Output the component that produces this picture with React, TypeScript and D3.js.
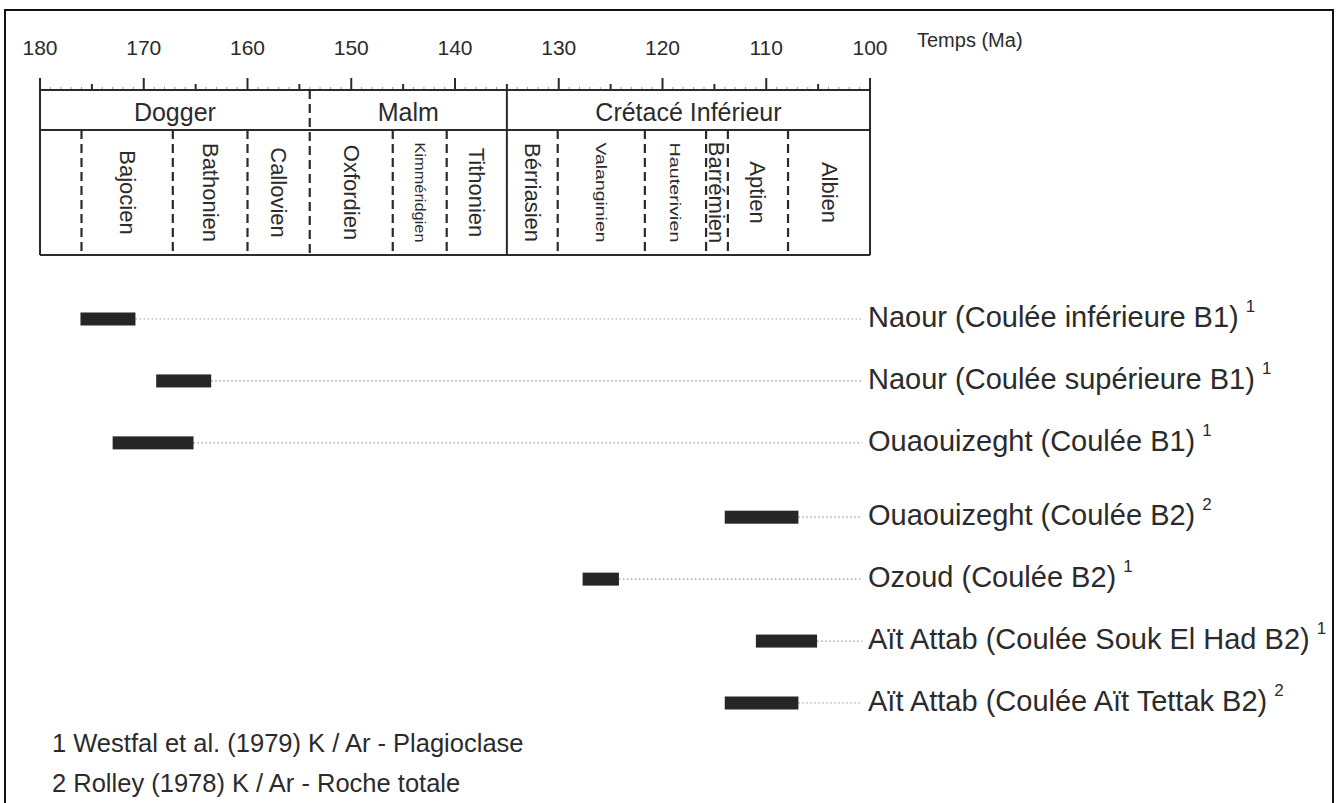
import React from 'react';
import * as d3 from 'd3';

// axis (Ma)
const tickLabels = ['180', '170', '160', '150', '140', '130', '120', '110', '100'];

// periods
const periodNames = ['Dogger', 'Malm', 'Crétacé Inférieur'];
const periodStart = [180, 154, 135];
const periodEnd = [154, 135, 100];

// stages
const stageNames = ['', 'Bajocien', 'Bathonien', 'Callovien', 'Oxfordien', 'Kimméridgien', 'Tithonien',
  'Bérriasien', 'Valanginien', 'Hauterivien', 'Barrémien', 'Aptien', 'Albien'];
const stageStart = [180, 176, 167.2, 160, 154, 146, 140.8, 135, 130.1, 121.7, 115.8, 113.7, 107.9];
const stageEnd = [176, 167.2, 160, 154, 146, 140.8, 135, 130.1, 121.7, 115.8, 113.7, 107.9, 100];

// dated flows
const sampleNames = [
  'Naour (Coulée inférieure B1)',
  'Naour (Coulée supérieure B1)',
  'Ouaouizeght (Coulée B1)',
  'Ouaouizeght (Coulée B2)',
  'Ozoud (Coulée B2)',
  'Aït Attab (Coulée Souk El Had B2)',
  'Aït Attab (Coulée Aït Tettak B2)',
];
const sampleRefs = ['1', '1', '1', '2', '1', '1', '2'];
const sampleGroups = ['B1', 'B1', 'B1', 'B2', 'B2', 'B2', 'B2'];
const ageOld = [176.1, 168.8, 173.0, 114.0, 127.7, 111.0, 114.0];
const ageYoung = [170.8, 163.5, 165.2, 106.9, 124.2, 105.1, 106.9];

const footnotes = [
  '1 Westfal et al. (1979) K / Ar - Plagioclase',
  '2 Rolley (1978) K / Ar - Roche totale',
];

const narrowStages = new Set(['Kimméridgien', 'Valanginien', 'Hauterivien']);

const W = 1339;
const H = 803;
const FONT = '"Liberation Sans", Arial, Helvetica, sans-serif';
const INK = '#2b2b2b';

export default function App() {
  const x = d3.scaleLinear().domain([180, 100]).range([40, 870]);
  const axisY = 90;
  const midY = 130;
  const boxBottom = 255;
  const stageMid = (midY + boxBottom) / 2;

  // row index with a small gap between B1 and B2 groups
  const rowPos = sampleGroups.map((g, i) => i + (g === 'B2' ? 0.2 : 0));
  const y = d3.scaleLinear().domain([0, d3.max(rowPos) as number]).range([319, 703]);
  const barH = 13;
  const labelX = 868;

  const minor = d3.range(100, 181, 1);
  const stageBounds = stageStart.slice(1).filter(v => v !== 154 && v !== 135);

  return (
    <svg width={W} height={H} style={{ position: 'absolute', left: 0, top: 0, display: 'block' }}
      fontFamily={FONT}>
      <rect width={W} height={H} fill="#fff" />
      <rect x={5} y={10} width={1328} height={820} fill="none" stroke="#111" strokeWidth={2} />

      {/* time axis */}
      {tickLabels.map(t => (
        <text key={t} x={x(+t)} y={55} textAnchor="middle" fontSize={21} fill={INK}>{t}</text>
      ))}
      <text x={917} y={47} fontSize={20} fill={INK}>Temps (Ma)</text>
      {minor.map(v => {
        const len = v % 10 === 0 ? 12 : v % 5 === 0 ? 6 : 3;
        return (
          <line key={v} x1={x(v)} x2={x(v)} y1={axisY - len} y2={axisY}
            stroke={v % 5 === 0 ? INK : '#999'} strokeWidth={v % 5 === 0 ? 2 : 1} />
        );
      })}

      {/* stratigraphic box */}
      <g stroke={INK} strokeWidth={2} fill="none">
        <line x1={x(180)} x2={x(100)} y1={axisY} y2={axisY} />
        <line x1={x(180)} x2={x(100)} y1={midY} y2={midY} />
        <line x1={x(180)} x2={x(100)} y1={boxBottom} y2={boxBottom} />
        <line x1={x(180)} x2={x(180)} y1={axisY - 12} y2={boxBottom} />
        <line x1={x(100)} x2={x(100)} y1={axisY - 12} y2={boxBottom} />
        <line x1={x(154)} x2={x(154)} y1={axisY} y2={boxBottom} strokeDasharray="9,5" strokeWidth={2.2} />
        <line x1={x(135)} x2={x(135)} y1={axisY} y2={boxBottom} />
        {stageBounds.map(v => (
          <line key={v} x1={x(v)} x2={x(v)} y1={midY} y2={boxBottom} strokeDasharray="9,5" strokeWidth={2.2} />
        ))}
      </g>

      {periodNames.map((p, i) => (
        <text key={p} x={(x(periodStart[i]) + x(periodEnd[i])) / 2} y={121} textAnchor="middle"
          fontSize={25} fill={INK}>{p}</text>
      ))}

      {stageNames.map((s, i) => {
        if (!s) return null;
        const cx = (x(stageStart[i]) + x(stageEnd[i])) / 2;
        const narrow = narrowStages.has(s);
        return (
          <text key={s} transform={`translate(${cx},${stageMid}) rotate(90)`} textAnchor="middle"
            dominantBaseline="central" fontSize={narrow ? 14 : 22} fill={INK}
            textLength={narrow ? 100 : undefined} lengthAdjust={narrow ? 'spacingAndGlyphs' : undefined}>
            {s}
          </text>
        );
      })}

      {/* age bars */}
      {sampleNames.map((n, i) => {
        const cy = y(rowPos[i]);
        return (
          <g key={n}>
            <line x1={x(ageYoung[i])} x2={labelX - 6} y1={cy} y2={cy} stroke="#9a9a9a"
              strokeWidth={1.2} strokeDasharray="1.5,2.5" />
            <rect x={x(ageOld[i])} y={cy - barH / 2} width={x(ageYoung[i]) - x(ageOld[i])} height={barH}
              fill="#262626" />
            <text x={labelX} y={cy + 8} fontSize={29} fill={INK}>
              {n}
              <tspan dx={7} dy={-15} fontSize={17}>{sampleRefs[i]}</tspan>
            </text>
          </g>
        );
      })}

      {footnotes.map((f, i) => (
        <text key={f} x={52} y={752 + i * 40} fontSize={25.5} fill={INK}>{f}</text>
      ))}
    </svg>
  );
}
